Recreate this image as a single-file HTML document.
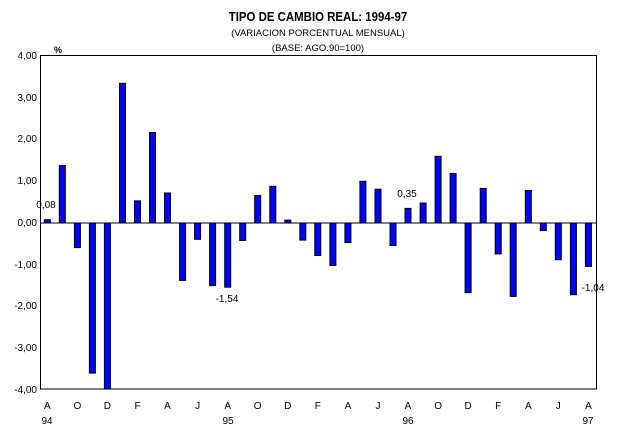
<!DOCTYPE html>
<html><head><meta charset="utf-8"><style>
body{margin:0;background:#fff}
svg text{font-family:"Liberation Sans",sans-serif;fill:#000}
</style></head><body>
<svg width="633" height="435" xmlns="http://www.w3.org/2000/svg">
<rect width="633" height="435" fill="#fff"/>
<text x="318" y="21" text-anchor="middle" font-size="13" font-weight="bold" transform="translate(318 0) scale(0.88 1) translate(-318 0)">TIPO DE CAMBIO REAL: 1994-97</text>
<text x="318" y="36" text-anchor="middle" font-size="9.5">(VARIACION PORCENTUAL MENSUAL)</text>
<text x="318" y="51" text-anchor="middle" font-size="9.5">(BASE: AGO.90=100)</text>
<text x="54" y="53" font-size="9" font-weight="bold">%</text>
<g font-size="10" text-anchor="end">
<text x="37" y="59">4,00</text><text x="37" y="101">3,00</text><text x="37" y="142">2,00</text><text x="37" y="184">1,00</text><text x="37" y="226">0,00</text><text x="37" y="268">-1,00</text><text x="37" y="309">-2,00</text><text x="37" y="351">-3,00</text><text x="37" y="393">-4,00</text>
</g>
<g fill="#0000ff" stroke="#000" stroke-width="1">
<rect x="44.3" y="219.7" width="6" height="3.3"/>
<rect x="59.3" y="165.5" width="6" height="57.5"/>
<rect x="74.4" y="223" width="6" height="24.6"/>
<rect x="89.4" y="223" width="6" height="150.1"/>
<rect x="104.4" y="223" width="6" height="166"/>
<rect x="119.5" y="83.3" width="6" height="139.7"/>
<rect x="134.5" y="200.9" width="6" height="22.1"/>
<rect x="149.5" y="132.5" width="6" height="90.5"/>
<rect x="164.5" y="193" width="6" height="30"/>
<rect x="179.6" y="223" width="6" height="57.5"/>
<rect x="194.6" y="223" width="6" height="16.3"/>
<rect x="209.6" y="223" width="6" height="62.6"/>
<rect x="224.7" y="223" width="6" height="64.2"/>
<rect x="239.7" y="223" width="6" height="17.5"/>
<rect x="254.7" y="195.5" width="6" height="27.5"/>
<rect x="269.8" y="186.3" width="6" height="36.7"/>
<rect x="284.8" y="220.1" width="6" height="2.9"/>
<rect x="299.8" y="223" width="6" height="17.1"/>
<rect x="314.8" y="223" width="6" height="32.5"/>
<rect x="329.9" y="223" width="6" height="42.5"/>
<rect x="344.9" y="223" width="6" height="19.6"/>
<rect x="359.9" y="181.3" width="6" height="41.7"/>
<rect x="375.0" y="189.2" width="6" height="33.8"/>
<rect x="390.0" y="223" width="6" height="22.5"/>
<rect x="405.0" y="208.4" width="6" height="14.6"/>
<rect x="420.1" y="203" width="6" height="20"/>
<rect x="435.1" y="156.3" width="6" height="66.7"/>
<rect x="450.1" y="173.4" width="6" height="49.6"/>
<rect x="465.1" y="223" width="6" height="69.6"/>
<rect x="480.2" y="188.4" width="6" height="34.6"/>
<rect x="495.2" y="223" width="6" height="30.9"/>
<rect x="510.2" y="223" width="6" height="73.4"/>
<rect x="525.3" y="190.5" width="6" height="32.5"/>
<rect x="540.3" y="223" width="6" height="7.5"/>
<rect x="555.3" y="223" width="6" height="36.7"/>
<rect x="570.4" y="223" width="6" height="71.7"/>
<rect x="585.4" y="223" width="6" height="43.4"/>
</g>
<rect x="40.5" y="55.5" width="556" height="333.5" fill="none" stroke="#000"/>
<line x1="40" y1="223" x2="597" y2="223" stroke="#000"/>
<g font-size="10" text-anchor="middle">
<text x="47.3" y="409">A</text><text x="77.4" y="409">O</text><text x="107.4" y="409">D</text><text x="137.5" y="409">F</text><text x="167.5" y="409">A</text><text x="197.6" y="409">J</text>
<text x="227.7" y="409">A</text><text x="257.7" y="409">O</text><text x="287.8" y="409">D</text><text x="317.8" y="409">F</text><text x="347.9" y="409">A</text><text x="378" y="409">J</text>
<text x="408" y="409">A</text><text x="438.1" y="409">O</text><text x="468.1" y="409">D</text><text x="498.2" y="409">F</text><text x="528.3" y="409">A</text><text x="558.3" y="409">J</text>
<text x="588.4" y="409">A</text>
<text x="47" y="424">94</text><text x="228" y="424">95</text><text x="408" y="424">96</text><text x="588" y="424">97</text>
<text x="46" y="208">0,08</text><text x="227" y="302">-1,54</text><text x="407" y="197">0,35</text><text x="593" y="291">-1,04</text>
</g>
</svg>
</body></html>
